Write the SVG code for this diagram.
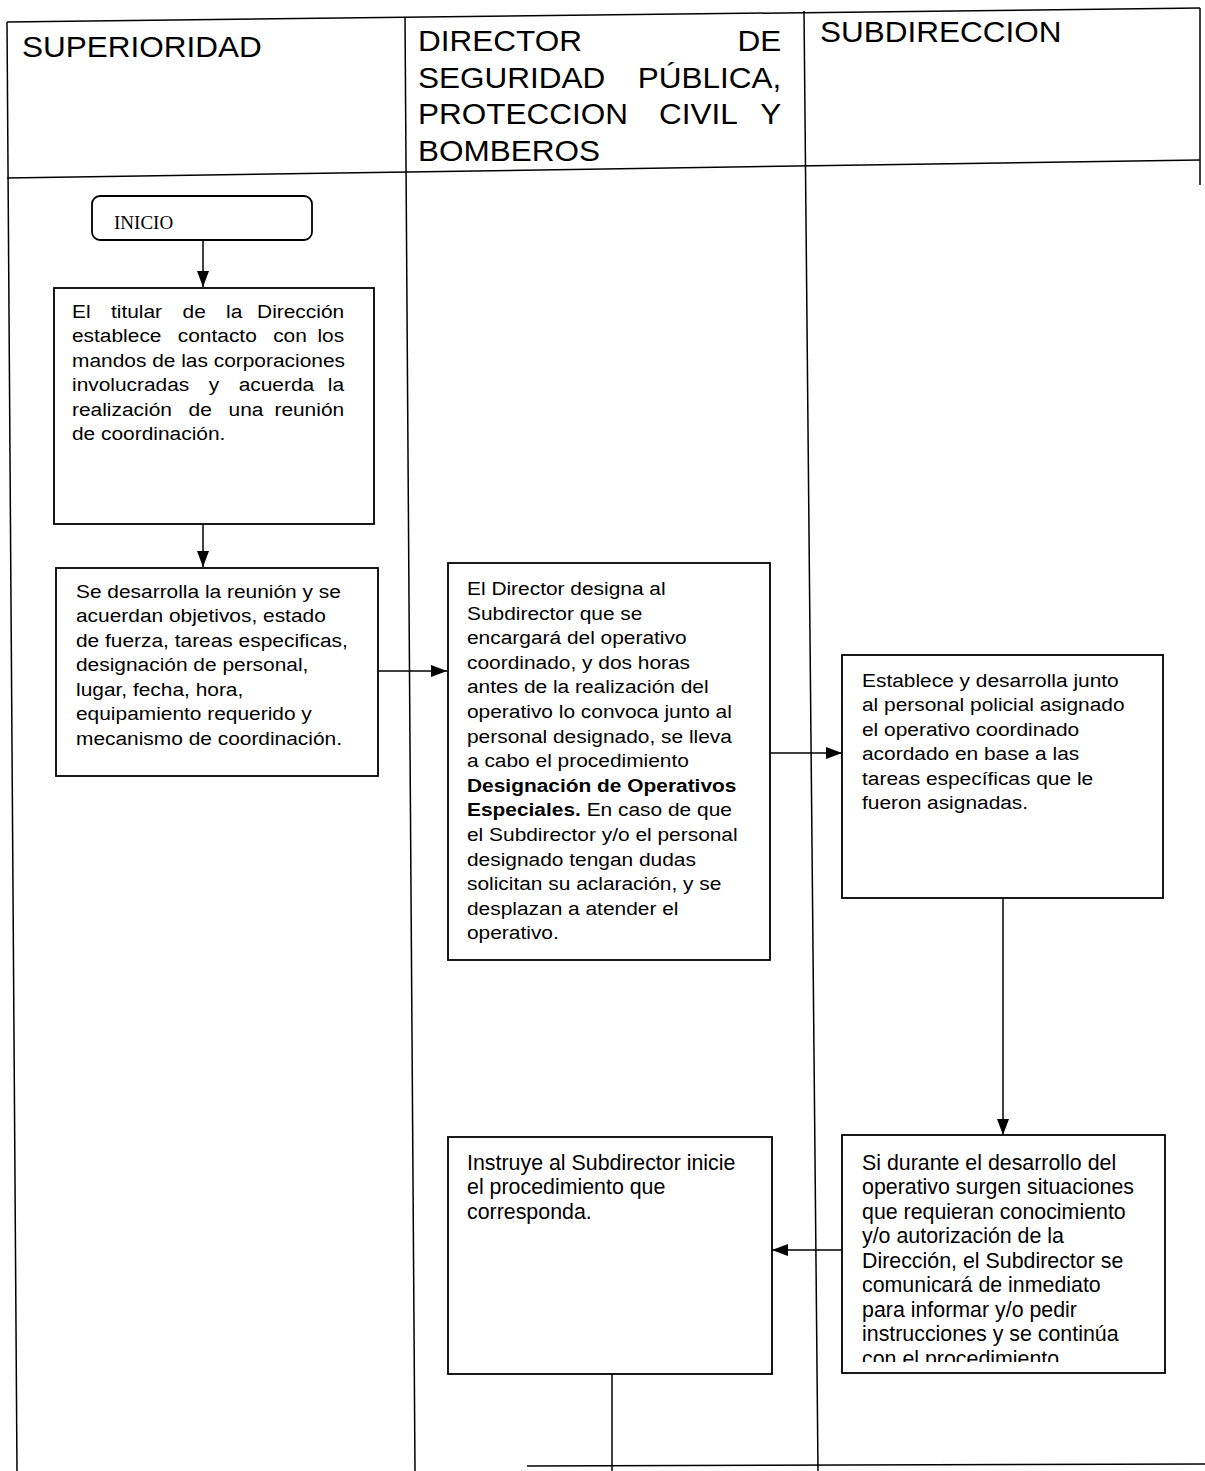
<svg xmlns="http://www.w3.org/2000/svg" width="1205" height="1471" viewBox="0 0 1205 1471">
<style>
.ln{stroke:#000;stroke-width:1.5;fill:none}
.bx{stroke:#000;stroke-width:1.8;fill:#fff}
.cn{stroke:#000;stroke-width:1.5;fill:none}
.h{font-family:"Liberation Sans",Arial,sans-serif;font-size:30px;fill:#000}
.t{font-family:"Liberation Sans",Arial,sans-serif;font-size:19px;fill:#000}
.n{font-family:"Liberation Sans",Arial,sans-serif;font-size:23px;fill:#000}
.s{font-family:"Liberation Serif","Times New Roman",serif;font-size:19px;fill:#000}
.b{font-weight:bold}
</style>
<defs>
<marker id="ah" viewBox="0 0 16 12" refX="16" refY="6" markerWidth="16" markerHeight="12" markerUnits="userSpaceOnUse" orient="auto">
<path d="M0,0 L16,6 L0,12 Z" fill="#000"/>
</marker>
<clipPath id="c5"><rect x="842" y="1135" width="323" height="227"/></clipPath>
</defs>
<rect width="1205" height="1471" fill="#fff"/>
<g id="lanes">
<line class="ln" x1="7" y1="22" x2="1200" y2="8"/>
<line class="ln" x1="7" y1="22" x2="17" y2="1471"/>
<line class="ln" x1="7" y1="178" x2="1200" y2="160"/>
<line class="ln" x1="405" y1="17" x2="415" y2="1471"/>
<line class="ln" x1="804" y1="11" x2="818" y2="1471"/>
<line class="ln" x1="1200" y1="8" x2="1200" y2="185"/>
<line class="ln" x1="527" y1="1466" x2="1205" y2="1464"/>
</g>
<g id="header">
<text class="h" transform="translate(22 0) scale(1.05 1)"><tspan x="0" y="57">SUPERIORIDAD</tspan></text>
<text class="h" transform="translate(418 0) scale(1.05 1)">
<tspan x="0" y="51">DIRECTOR</tspan><tspan x="354.3" y="51" text-anchor="end">DE</tspan>
<tspan x="0" y="88">SEGURIDAD</tspan><tspan x="354.3" y="88" text-anchor="end">PÚBLICA,</tspan>
<tspan x="0" y="124">PROTECCION</tspan><tspan x="229.6" y="124">CIVIL</tspan><tspan x="354.3" y="124" text-anchor="end">Y</tspan>
<tspan x="0" y="161">BOMBEROS</tspan>
</text>
<text class="h" transform="translate(820 0) scale(1.05 1)"><tspan x="0" y="42">SUBDIRECCION</tspan></text>
</g>
<g id="connectors">
<line class="cn" x1="203" y1="240" x2="203" y2="287" marker-end="url(#ah)"/>
<line class="cn" x1="203" y1="524" x2="203" y2="567" marker-end="url(#ah)"/>
<line class="cn" x1="378" y1="671" x2="447" y2="671" marker-end="url(#ah)"/>
<line class="cn" x1="770" y1="753" x2="842" y2="753" marker-end="url(#ah)"/>
<line class="cn" x1="1003" y1="898" x2="1003" y2="1135" marker-end="url(#ah)"/>
<line class="cn" x1="842" y1="1250" x2="772" y2="1250" marker-end="url(#ah)"/>
<line class="cn" x1="612" y1="1374" x2="612" y2="1471"/>
</g>
<g id="inicio">
<rect class="bx" x="92" y="196" width="220" height="44" rx="8"/>
<text class="s" x="114" y="229">INICIO</text>
</g>
<g id="paso1">
<rect class="bx" x="54" y="288" width="320" height="236"/>
<text class="t" transform="translate(72 0) scale(1.1 1)">
<tspan x="0" y="318">El</tspan><tspan x="35.4" y="318">titular</tspan><tspan x="100.5" y="318">de</tspan><tspan x="140.1" y="318">la</tspan><tspan x="252.7" y="318" text-anchor="end">Dirección</tspan>
<tspan x="0" y="342.4">establece</tspan><tspan x="96.2" y="342.4">contacto</tspan><tspan x="182.9" y="342.4">con</tspan><tspan x="252.7" y="342.4" text-anchor="end">los</tspan>
<tspan x="0" y="366.8">mandos de las corporaciones</tspan>
<tspan x="0" y="391.2">involucradas</tspan><tspan x="124.3" y="391.2">y</tspan><tspan x="151.5" y="391.2">acuerda</tspan><tspan x="252.7" y="391.2" text-anchor="end">la</tspan>
<tspan x="0" y="415.6">realización</tspan><tspan x="106" y="415.6">de</tspan><tspan x="142.3" y="415.6">una</tspan><tspan x="252.7" y="415.6" text-anchor="end">reunión</tspan>
<tspan x="0" y="440">de coordinación.</tspan>
</text>
</g>
<g id="paso2">
<rect class="bx" x="56" y="568" width="322" height="208"/>
<text class="t" transform="translate(76 0) scale(1.1 1)">
<tspan x="0" y="598">Se desarrolla la reunión y se</tspan>
<tspan x="0" y="622.5">acuerdan objetivos, estado</tspan>
<tspan x="0" y="647">de fuerza, tareas especificas,</tspan>
<tspan x="0" y="671.5">designación de personal,</tspan>
<tspan x="0" y="696">lugar, fecha, hora,</tspan>
<tspan x="0" y="720.5">equipamiento requerido y</tspan>
<tspan x="0" y="745">mecanismo de coordinación.</tspan>
</text>
</g>
<g id="paso3">
<rect class="bx" x="448" y="563" width="322" height="397"/>
<text class="t" transform="translate(467 0) scale(1.1 1)">
<tspan x="0" y="595">El Director designa al</tspan>
<tspan x="0" y="619.6">Subdirector que se</tspan>
<tspan x="0" y="644.2">encargará del operativo</tspan>
<tspan x="0" y="668.8">coordinado, y dos horas</tspan>
<tspan x="0" y="693.4">antes de la realización del</tspan>
<tspan x="0" y="718">operativo lo convoca junto al</tspan>
<tspan x="0" y="742.6">personal designado, se lleva</tspan>
<tspan x="0" y="767.2">a cabo el procedimiento</tspan>
<tspan x="0" y="791.8" class="b">Designación de Operativos</tspan>
<tspan x="0" y="816.4" class="b">Especiales.</tspan><tspan> En caso de que</tspan>
<tspan x="0" y="841">el Subdirector y/o el personal</tspan>
<tspan x="0" y="865.6">designado tengan dudas</tspan>
<tspan x="0" y="890.2">solicitan su aclaración, y se</tspan>
<tspan x="0" y="914.8">desplazan a atender el</tspan>
<tspan x="0" y="939.4">operativo.</tspan>
</text>
</g>
<g id="paso4">
<rect class="bx" x="842" y="655" width="321" height="243"/>
<text class="t" transform="translate(862 0) scale(1.1 1)">
<tspan x="0" y="687">Establece y desarrolla junto</tspan>
<tspan x="0" y="711.5">al personal policial asignado</tspan>
<tspan x="0" y="736">el operativo coordinado</tspan>
<tspan x="0" y="760.5">acordado en base a las</tspan>
<tspan x="0" y="785">tareas específicas que le</tspan>
<tspan x="0" y="809.5">fueron asignadas.</tspan>
</text>
</g>
<g id="paso5">
<rect class="bx" x="842" y="1135" width="323" height="238"/>
<g clip-path="url(#c5)">
<text class="n" transform="translate(862 0) scale(0.93 1)">
<tspan x="0" y="1170">Si durante el desarrollo del</tspan>
<tspan x="0" y="1194.5">operativo surgen situaciones</tspan>
<tspan x="0" y="1219">que requieran conocimiento</tspan>
<tspan x="0" y="1243.5">y/o autorización de la</tspan>
<tspan x="0" y="1268">Dirección, el Subdirector se</tspan>
<tspan x="0" y="1292.5">comunicará de inmediato</tspan>
<tspan x="0" y="1317">para informar y/o pedir</tspan>
<tspan x="0" y="1341.5">instrucciones y se continúa</tspan>
<tspan x="0" y="1366">con el procedimiento</tspan>
</text>
</g>
</g>
<g id="paso6">
<rect class="bx" x="448" y="1137" width="324" height="237"/>
<text class="n" transform="translate(467 0) scale(0.93 1)">
<tspan x="0" y="1170">Instruye al Subdirector inicie</tspan>
<tspan x="0" y="1194.5">el procedimiento que</tspan>
<tspan x="0" y="1219">corresponda.</tspan>
</text>
</g>
</svg>
